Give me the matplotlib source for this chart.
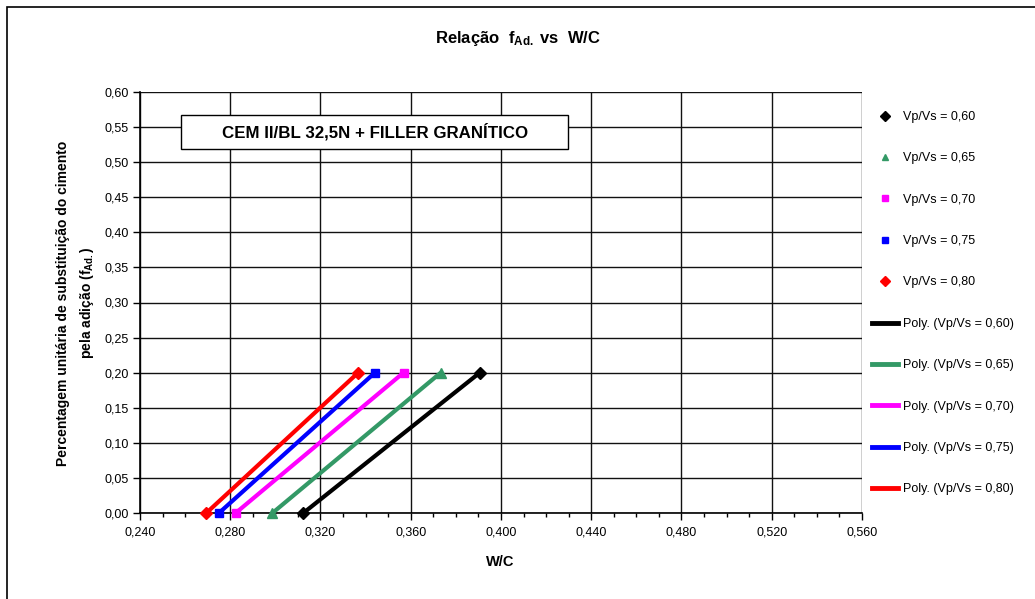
import matplotlib
matplotlib.use("Agg")
import matplotlib.pyplot as plt
from matplotlib.patches import Rectangle
from matplotlib.ticker import MultipleLocator, FuncFormatter
from matplotlib.lines import Line2D

plt.rcParams['font.family'] = ['Liberation Sans', 'DejaVu Sans']
plt.rcParams['mathtext.fontset'] = 'custom'
plt.rcParams['mathtext.rm'] = 'Liberation Sans'
plt.rcParams['mathtext.bf'] = 'Liberation Sans:bold'
plt.rcParams['mathtext.it'] = 'Liberation Sans:italic'

# data
series_labels = ["Vp/Vs = 0,60", "Vp/Vs = 0,65", "Vp/Vs = 0,70", "Vp/Vs = 0,75", "Vp/Vs = 0,80"]
colors = ["#000000", "#339966", "#FF00FF", "#0000FF", "#FF0000"]
markers = ["D", "^", "s", "s", "D"]
f_ad = [0.00, 0.20]
wc_060 = [0.3124, 0.3906]
wc_065 = [0.2987, 0.3733]
wc_070 = [0.2824, 0.3568]
wc_075 = [0.2750, 0.3441]
wc_080 = [0.2694, 0.3367]
wc_series = [wc_060, wc_065, wc_070, wc_075, wc_080]

fig = plt.figure(figsize=(10.35, 5.99), dpi=100)
ax = fig.add_axes([140/1035, 1-513/599, 722/1035, 421/599])

marker_handles = []
line_handles = []
for lab, c, m, wc in zip(series_labels, colors, markers, wc_series):
    ax.plot(wc, f_ad, color=c, lw=3, solid_capstyle='butt', zorder=3)
    ms = 6 if m != "^" else 7
    ax.plot(wc, f_ad, linestyle='none', marker=m, color=c, markersize=ms, zorder=4, clip_on=False)
    marker_handles.append(Line2D([], [], linestyle='none', marker=m, color=c, markersize=5))
    line_handles.append(Line2D([], [], color=c, lw=3.5))

ax.set_xlim(0.24, 0.56)
ax.set_ylim(0.0, 0.60)
ax.xaxis.set_major_locator(MultipleLocator(0.04))
ax.xaxis.set_minor_locator(MultipleLocator(0.01))
ax.yaxis.set_major_locator(MultipleLocator(0.05))
ax.xaxis.set_major_formatter(FuncFormatter(lambda v, p: f"{v:.3f}".replace('.', ',')))
ax.yaxis.set_major_formatter(FuncFormatter(lambda v, p: f"{v:.2f}".replace('.', ',')))
ax.grid(True, which='major', color='#111111', lw=1.0)
ax.set_axisbelow(True)
for s in ['top', 'right']:
    ax.spines[s].set_visible(False)
for s in ['left', 'bottom']:
    ax.spines[s].set_color('black')
    ax.spines[s].set_linewidth(1.2)
ax.tick_params(axis='both', which='major', direction='out', length=5, width=1, labelsize=9, pad=3)
ax.tick_params(axis='x', which='minor', direction='out', length=3, width=1)
ax.tick_params(axis='x', which='major', pad=5)

# annotation box
ax.add_patch(Rectangle((0.0568, 0.8646), 0.5362, 0.0804, transform=ax.transAxes,
                       facecolor='white', edgecolor='black', lw=1.0, zorder=5))
ax.text(0.0568 + 0.5362/2, 0.8646 + 0.0804/2, "CEM II/BL 32,5N + FILLER GRANÍTICO",
        transform=ax.transAxes, ha='center', va='center', fontsize=12.2, fontweight='bold', zorder=6)

# titles
fig.text(518/1035, 1-38/599, r"Relação  $\mathbf{f_{Ad.}}$ vs  W/C", ha='center', va='center',
         fontsize=12, fontweight='bold')
fig.text(500/1035, 1-562/599, "W/C", ha='center', va='center', fontsize=10.5, fontweight='bold')
fig.text(76/1035, 1-303/599, "Percentagem unitária de substituição do cimento\npela adição ($\\mathbf{f_{Ad.}}$)",
         ha='center', va='center', rotation=90, fontsize=10, fontweight='bold', linespacing=1.6)

leg = fig.legend(marker_handles + line_handles,
                 series_labels + [f"Poly. ({s})" for s in series_labels],
                 loc='upper left', bbox_to_anchor=(872/1035, 1-111/599), frameon=False,
                 fontsize=9, labelspacing=2.35, handlelength=2.1, handletextpad=0.4,
                 borderaxespad=0, borderpad=0)

# figure frame
fig.patches.append(Rectangle((7/1035, -0.05), 1.2, 1-7/599+0.05, transform=fig.transFigure,
                             fill=False, edgecolor='black', lw=1.2))

fig.savefig("out.png", dpi=100)
